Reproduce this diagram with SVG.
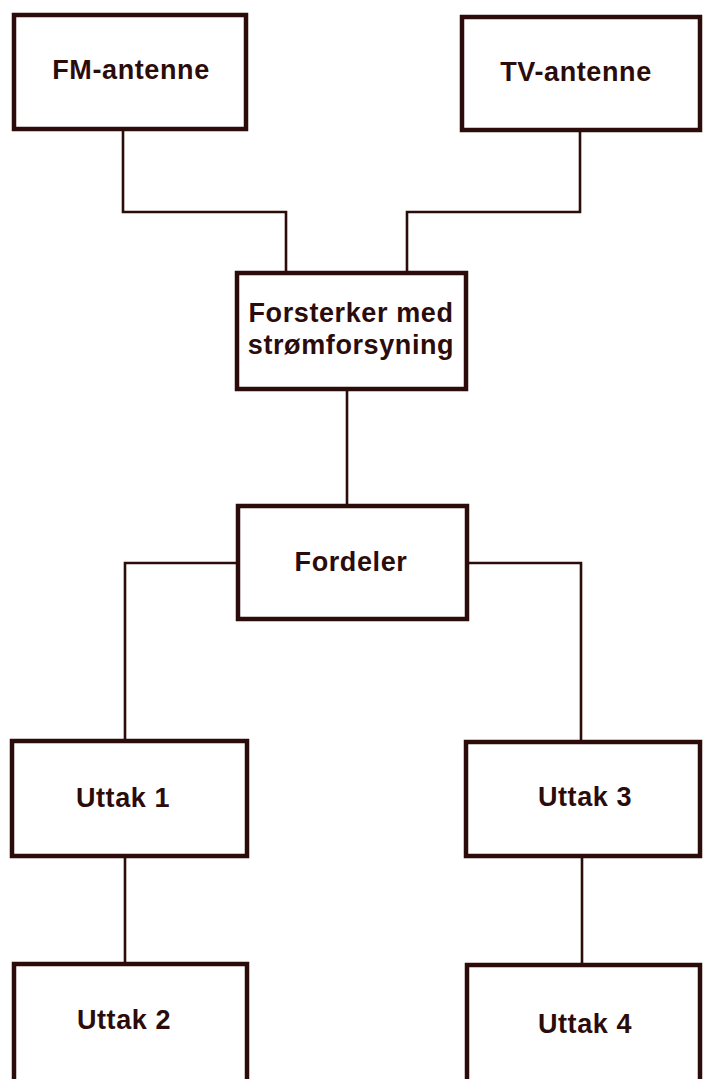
<svg xmlns="http://www.w3.org/2000/svg" width="704" height="1079" viewBox="0 0 704 1079">
<style>
.box{fill:#fff;stroke:#2b0c0a;stroke-width:4.5}
.wire{fill:none;stroke:#2b0c0a;stroke-width:2.6}
.lbl{font-family:"Liberation Sans",Arial,sans-serif;font-weight:bold;font-size:27px;fill:#2b0c0a;text-anchor:middle;letter-spacing:0.6px}
</style>
<rect width="704" height="1079" fill="#fff"/>
<g id="connectors">
<path class="wire" d="M123,131 V212 H286 V271"/>
<path class="wire" d="M580,132 V212 H407 V271"/>
<path class="wire" d="M347,391 V504"/>
<path class="wire" d="M236,563 H125 V739"/>
<path class="wire" d="M469,563 H581 V740"/>
<path class="wire" d="M125,858 V962"/>
<path class="wire" d="M582,858 V963"/>
</g>
<g id="fm-antenne"><rect class="box" x="14" y="15" width="232" height="114"/><text class="lbl" x="131" y="79">FM-antenne</text></g>
<g id="tv-antenne"><rect class="box" x="462" y="17" width="238" height="113"/><text class="lbl" x="576" y="81">TV-antenne</text></g>
<g id="forsterker"><rect class="box" x="237" y="273" width="229" height="116"/><text class="lbl" x="351" y="322">Forsterker med</text><text class="lbl" x="351" y="354">strømforsyning</text></g>
<g id="fordeler"><rect class="box" x="238" y="506" width="229" height="113"/><text class="lbl" x="351" y="571">Fordeler</text></g>
<g id="uttak1"><rect class="box" x="12" y="741" width="235" height="115"/><text class="lbl" x="123" y="807">Uttak 1</text></g>
<g id="uttak2"><rect class="box" x="14" y="964" width="233" height="130"/><text class="lbl" x="124" y="1029">Uttak 2</text></g>
<g id="uttak3"><rect class="box" x="466" y="742" width="234" height="114"/><text class="lbl" x="585" y="806">Uttak 3</text></g>
<g id="uttak4"><rect class="box" x="467" y="965" width="233" height="130"/><text class="lbl" x="585" y="1033">Uttak 4</text></g>
</svg>
